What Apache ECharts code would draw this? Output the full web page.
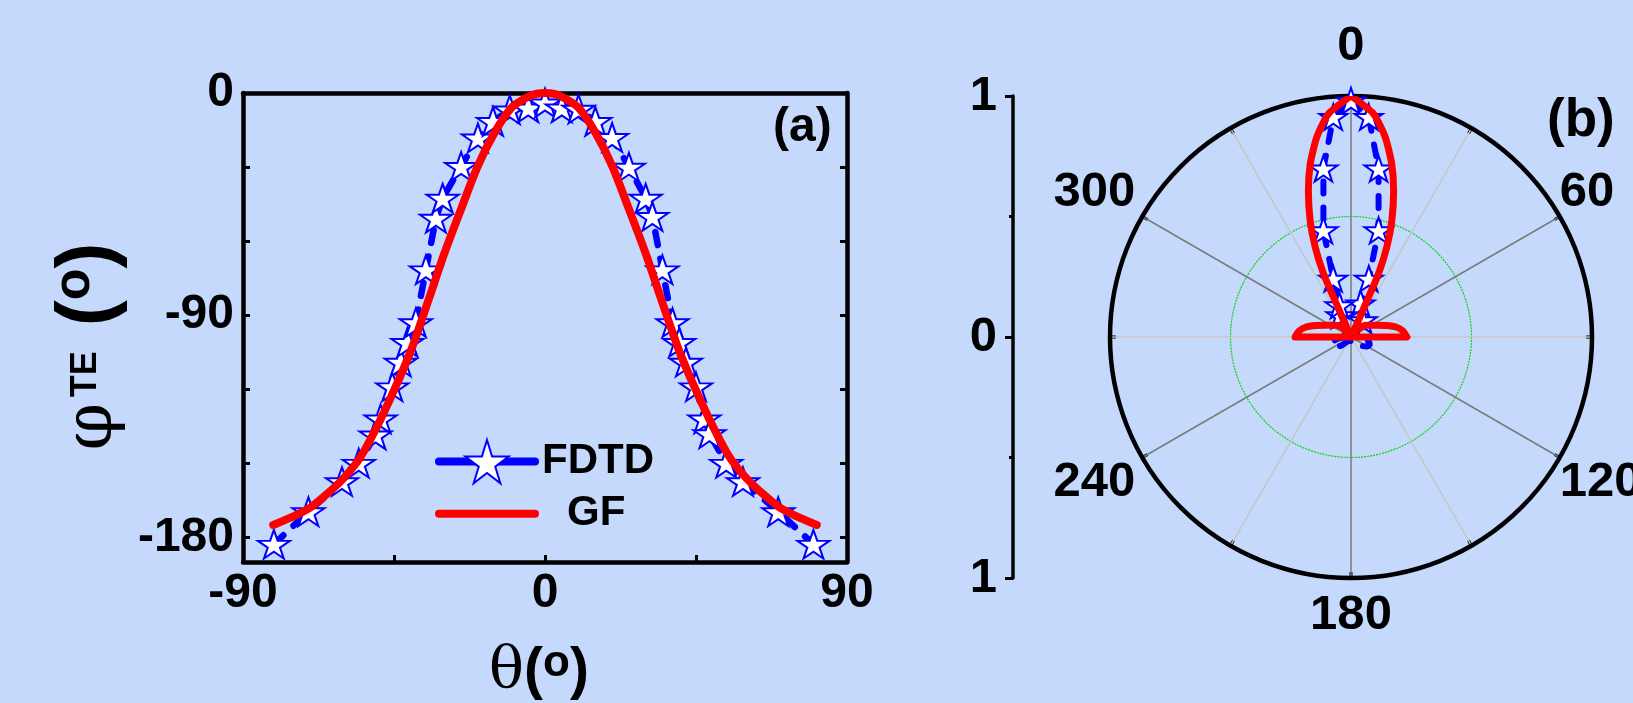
<!DOCTYPE html>
<html>
<head>
<meta charset="utf-8">
<script src="https://cdn.jsdelivr.net/npm/echarts/dist/echarts.min.js"></script>
<style>
  html, body { margin: 0; padding: 0; background: #c4d9fc; }
  #main { width: 1633px; height: 703px; }
</style>
</head>
<body>
<div id="main"></div>
<script>
// (a) FDTD 星点
var thetaFdtd = [-80.8, -70.5, -60.5, -55.5, -50.5, -49, -45.5, -43, -41, -38.5, -35.5, -32.5, -30.5, -25, -20, -15.5, -10.5, -5, 0,
  5, 10, 15, 20, 25, 30, 32, 35, 38, 40, 42, 45, 47.5, 49, 54, 59, 69.5, 80];
var phiFdtd = [-182.8, -169.6, -157.4, -150, -138.5, -132, -119, -109, -101, -93, -71.6, -50.7, -42.6, -29.7, -18.2, -11.5, -6.8, -6, -4,
  -6, -6.5, -11.5, -18, -30, -42.6, -50, -71.6, -93, -101, -109, -119, -132, -138, -150, -157.4, -169.6, -182.8];

// (a) GF 曲线
var thetaGf = [-81, -75, -70, -65, -60, -55, -50, -45, -40, -35, -30, -25, -20, -15, -10, -5, -2.5, 0,
  2.5, 5, 10, 15, 20, 25, 30, 35, 40, 45, 50, 55, 60, 65, 70, 75, 81];
var phiGf = [-175, -171.5, -168, -162.5, -156, -147.5, -135, -120.5, -104.5, -85, -65, -47, -29.5, -16, -6, -1.5, -0.3, 0,
  -0.3, -1.5, -6, -16, -29.5, -47, -65, -85, -104.5, -120.5, -135, -147.5, -156, -162.5, -168, -171.5, -175];

// (b) 极坐标 GF
var polarAngleGf = [0, 5.75, 9.7, 13.2, 16.2, 19.3, 21.7, 23.5, 23.8, 24, 30, 41.6, 52, 65, 72, 77.5, 83.4, 90,
  270, 276.6, 282.5, 288, 295, 308, 318.4, 330, 336, 336.2, 336.5, 338.3, 340.7, 343.8, 346.8, 350.3, 354.25, 360];
var polarRadiusGf = [1.0, 0.931, 0.842, 0.739, 0.634, 0.513, 0.402, 0.286, 0.166, 0.06, 0, 0.05, 0.079, 0.115, 0.153, 0.191, 0.217, 0.232,
  0.232, 0.217, 0.191, 0.153, 0.115, 0.079, 0.05, 0, 0.06, 0.166, 0.286, 0.402, 0.513, 0.634, 0.739, 0.842, 0.931, 1.0];

// (b) 极坐标 FDTD，starFdtd 标记哪些点画星
var polarAngleFdtd = [0, 4.6, 9.3, 14.5, 17, 16, 35, 50, 90, 98, 106, 114, 122, 132, 145,
  215, 228, 238, 246, 254, 262, 270, 310, 334, 340, 343, 345.5, 350.7, 355.4, 360];
var polarRadiusFdtd = [0.98, 0.916, 0.708, 0.457, 0.253, 0.145, 0.085, 0.03, 0.03, 0.06, 0.08, 0.085, 0.075, 0.055, 0.02,
  0.02, 0.055, 0.075, 0.085, 0.08, 0.06, 0.03, 0.03, 0.1, 0.14, 0.253, 0.457, 0.708, 0.916, 0.98];
var starFdtd = [1, 1, 1, 1, 1, 1, 1, 0, 0, 0, 0, 0, 0, 0, 0,
  0, 0, 0, 0, 0, 0, 0, 0, 1, 1, 1, 1, 1, 1, 0];

// 刻度标签
var thetaLabels = [-90, 0, 90];
var phiLabels = [0, -90, -180];
var angleLabels = [0, 60, 120, 180, 240, 300];

var myChart = echarts.init(document.getElementById('main'));

var FONT = 'Liberation Sans, Arial, sans-serif';
var SERIF = 'DejaVu Serif, Liberation Serif, serif';
var STAR = 'path://M50,0L61.23,34.55L97.55,34.55L68.17,55.9L79.39,90.45L50,69.1L20.61,90.45L31.83,55.9L2.45,34.55L38.77,34.55Z';

var lineA = [];
for (var i = 0; i < thetaFdtd.length; i++) lineA.push([thetaFdtd[i], phiFdtd[i]]);
var lineGf = [];
for (var i = 0; i < thetaGf.length; i++) lineGf.push([thetaGf[i], phiGf[i]]);
var polarGf = [];
for (var i = 0; i < polarAngleGf.length; i++) polarGf.push([polarRadiusGf[i], polarAngleGf[i]]);
var polarFdtd = [];
for (var i = 0; i < polarAngleFdtd.length; i++) {
  polarFdtd.push({
    value: [polarRadiusFdtd[i], polarAngleFdtd[i]],
    symbol: starFdtd[i] ? STAR : 'none'
  });
}

var tickLabel = { color: '#000', fontFamily: FONT, fontWeight: 'bold', fontSize: 48 };
var blackLine = { color: '#000', width: 4.5 };

var option = {
  backgroundColor: '#c4d9fc',
  animation: false,
  grid: [
    { left: 243, top: 93, width: 604, height: 469, outerBoundsMode: 'none' },
    { left: 1013, top: 96, width: 20, height: 482, outerBoundsMode: 'none' }
  ],
  xAxis: [
    {
      gridIndex: 0, type: 'value', min: -90, max: 90, interval: 45,
      axisLine: { onZero: false, lineStyle: blackLine },
      axisTick: { inside: true, length: 7, lineStyle: { width: 3, color: '#000' } },
      splitLine: { show: false },
      axisLabel: Object.assign({ margin: 8, showMinLabel: true, showMaxLabel: true,
        formatter: function (v) { return thetaLabels.indexOf(v) >= 0 ? String(v) : ''; } }, tickLabel),
      name: '{t|θ}{p|(}{o|o}{q|)}',
      nameLocation: 'middle',
      nameGap: 80,
      nameTextStyle: {
        rich: {
          t: { fontFamily: SERIF, fontSize: 58, lineHeight: 60, color: '#000' },
          p: { fontFamily: FONT, fontWeight: 'bold', fontSize: 57, lineHeight: 60, color: '#000' },
          q: { fontFamily: FONT, fontWeight: 'bold', fontSize: 57, lineHeight: 60, color: '#000', padding: [0, 12, 0, 0] },
          o: { fontFamily: FONT, fontWeight: 'bold', fontSize: 44, lineHeight: 38, verticalAlign: 'top', color: '#000' }
        }
      }
    },
    {
      gridIndex: 0, type: 'value', position: 'top', min: -90, max: 90, interval: 45,
      axisLine: { onZero: false, lineStyle: blackLine },
      axisTick: { show: false }, axisLabel: { show: false }, splitLine: { show: false }
    },
    { gridIndex: 1, type: 'value', min: 0, max: 1, show: false }
  ],
  yAxis: [
    {
      gridIndex: 0, type: 'value', min: -190, max: 0, minInterval: 30, maxInterval: 30,
      axisLine: { onZero: false, lineStyle: blackLine },
      axisTick: { inside: true, length: 7, lineStyle: { width: 3, color: '#000' } },
      splitLine: { show: false },
      axisLabel: Object.assign({ margin: 9,
        formatter: function (v) { return phiLabels.indexOf(v) >= 0 ? String(v) : ''; } }, tickLabel),
      name: '{f|φ}{h| }{s|TE}{g| }{p|(}{o|o}{q|)}',
      nameLocation: 'middle',
      nameRotate: 90,
      nameGap: 100,
      nameTextStyle: {
        rich: {
          f: { fontFamily: SERIF, fontSize: 68, lineHeight: 80, color: '#000', padding: [8, 0, 0, 0] },
          h: { fontFamily: FONT, fontSize: 20, lineHeight: 80 },
          s: { fontFamily: FONT, fontWeight: 'bold', fontSize: 36, verticalAlign: 'top', color: '#000', padding: [19, 0, 0, 0] },
          g: { fontFamily: FONT, fontSize: 90, lineHeight: 80 },
          p: { fontFamily: FONT, fontWeight: 'bold', fontSize: 78, lineHeight: 80, color: '#000' },
          q: { fontFamily: FONT, fontWeight: 'bold', fontSize: 78, lineHeight: 80, color: '#000', padding: [0, 38, 0, 0] },
          o: { fontFamily: FONT, fontWeight: 'bold', fontSize: 52, lineHeight: 8, verticalAlign: 'top', color: '#000' }
        }
      }
    },
    {
      gridIndex: 0, type: 'value', position: 'right', min: -190, max: 0, minInterval: 30, maxInterval: 30,
      axisLine: { onZero: false, lineStyle: blackLine },
      axisTick: { inside: true, length: 7, lineStyle: { width: 3, color: '#000' } },
      axisLabel: { show: false }, splitLine: { show: false }
    },
    {
      // (b) 左侧的径向刻度
      gridIndex: 1, type: 'value', position: 'left', min: -1, max: 1, interval: 1,
      axisLine: { onZero: false, lineStyle: { color: '#000', width: 3.5 } },
      axisTick: { length: 8, lineStyle: { width: 3, color: '#000' } },
      minorTick: { show: true, splitNumber: 2, length: 4, lineStyle: { width: 3, color: '#000' } },
      splitLine: { show: false },
      axisLabel: Object.assign({ margin: 16, showMinLabel: true, showMaxLabel: true,
        formatter: function (v) { return String(Math.abs(v)); } }, tickLabel, { fontSize: 49 })
    }
  ],
  polar: { center: [1351, 337], radius: 241 },
  angleAxis: {
    type: 'value', min: 0, max: 360, interval: 30, startAngle: 90, clockwise: true,
    axisLine: { lineStyle: { color: '#000', width: 4.5 } },
    axisTick: { inside: true, length: 6, lineStyle: { width: 3, color: '#000' } },
    splitLine: { show: true, lineStyle: { color: ['#7a7a7a', '#c6c6c6'], width: 1.5 } },
    axisLabel: {
      margin: 0,
      formatter: function (v) {
        if (angleLabels.indexOf(v) < 0) return '';
        if (v === 0) return '{top|0}';
        if (v === 180) return '{bot|180}';
        if (v > 180) return '{lft|' + v + '}';
        return '{n|' + v + '}';
      },
      rich: {
        n: { fontFamily: FONT, fontWeight: 'bold', fontSize: 49, color: '#000' },
        top: { fontFamily: FONT, fontWeight: 'bold', fontSize: 49, color: '#000', padding: [0, 0, 25, 0] },
        bot: { fontFamily: FONT, fontWeight: 'bold', fontSize: 49, color: '#000', padding: [13, 0, 0, 0] },
        lft: { fontFamily: FONT, fontWeight: 'bold', fontSize: 49, color: '#000', padding: [0, 7, 0, 0] }
      }
    }
  },
  radiusAxis: {
    type: 'value', min: 0, max: 1, interval: 0.5,
    axisLine: { show: false }, axisTick: { show: false }, axisLabel: { show: false },
    splitLine: { show: true, lineStyle: { color: '#14d214', width: 1.2, type: [2, 1] } }
  },
  legend: {
    left: 435, top: 439, orient: 'vertical', padding: 0,
    itemWidth: 96, itemHeight: 54, itemGap: 8,
    selectedMode: false,
    lineStyle: { type: 'solid', width: 8, cap: 'round' },
    data: [
      { name: 'FDTD' },
      { name: 'GF', itemStyle: { color: 'rgba(0,0,0,0)', borderColor: 'rgba(0,0,0,0)', borderWidth: 0 } }
    ],
    formatter: function (name) { return name === 'GF' ? '{g|GF}' : '{f|FDTD}'; },
    textStyle: {
      rich: {
        f: { fontFamily: FONT, fontWeight: 'bold', fontSize: 42, color: '#000', padding: [0, 0, 0, 2] },
        g: { fontFamily: FONT, fontWeight: 'bold', fontSize: 42, color: '#000', padding: [0, 0, 0, 27] }
      }
    }
  },
  graphic: [
    { type: 'text', left: 773, top: 104, style: { text: '(a)', font: 'bold 48px ' + FONT, fill: '#000' } },
    { type: 'text', left: 1547, top: 95, style: { text: '(b)', font: 'bold 53px ' + FONT, fill: '#000' } }
  ],
  series: [
    {
      name: 'FDTD', type: 'line', xAxisIndex: 0, yAxisIndex: 0, data: lineA, clip: false, z: 2,
      symbol: STAR, symbolSize: [32, 30], symbolKeepAspect: true,
      itemStyle: { color: '#ffffff', borderColor: '#0000ff', borderWidth: 2 },
      lineStyle: { color: '#0000ff', width: 6.5, type: [13, 14], cap: 'round' }
    },
    {
      name: 'GF', type: 'line', xAxisIndex: 0, yAxisIndex: 0, data: lineGf, clip: false, z: 3,
      symbol: 'none', smooth: 0.3,
      lineStyle: { color: '#ff0000', width: 8, cap: 'round', join: 'round' }
    },
    {
      name: 'FDTD', type: 'line', coordinateSystem: 'polar', data: polarFdtd, clip: false, z: 2,
      symbolSize: [28, 27], symbolKeepAspect: true,
      itemStyle: { color: '#ffffff', borderColor: '#0000ff', borderWidth: 2 },
      lineStyle: { color: '#0000ff', width: 6, type: [12, 14], cap: 'round' }
    },
    {
      name: 'GF', type: 'line', coordinateSystem: 'polar', data: polarGf, clip: false, z: 3,
      symbol: 'none', smooth: 0.2,
      lineStyle: { color: '#ff0000', width: 7, cap: 'round', join: 'round' }
    }
  ]
};

myChart.setOption(option);
</script>
</body>
</html>
